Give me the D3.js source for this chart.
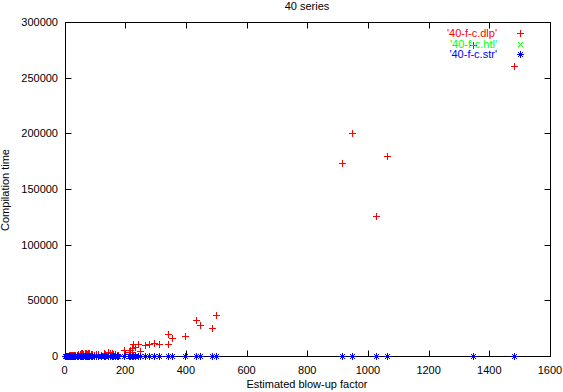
<!DOCTYPE html>
<html><head><meta charset="utf-8">
<script src="https://cdn.jsdelivr.net/npm/d3@7"></script>
<style>body{margin:0;background:#fff}svg{display:block}text{font-family:"Liberation Sans",Arial,sans-serif;font-size:11px}</style>
</head><body>
<svg id="c" width="563" height="392"></svg>
<script>
const title = "40 series";
const xLabel = "Estimated blow-up factor";
const yLabel = "Compilation time";
const seriesNames = ["'40-f-c.dlp'", "'40-f-c.htl'", "'40-f-c.str'"];
const seriesColors = ["#ff0000", "#00ff00", "#0000ff"];
const xTicks = [0,200,400,600,800,1000,1200,1400,1600];
const yTicks = [0,50000,100000,150000,200000,250000,300000];

const blowup = [2,4,6,8,10,12,14,16,18,20,22,25,28,30,33,36,40,43,
  46,50,54,58,62,66,70,74,78,82,86,90,
  96,104,112,120,129,135,144,150,155,160,166,172,177,
  197,211,216,221,223,227,233,243,249,265,280,294,312,340,342,354,396,433,447,485,498,
  913,946,1027,1062,1345,1483];
const dlp = [100,150,200,250,300,350,400,450,500,550,600,700,800,900,1000,1100,1300,1500,
  2000,2200,2300,2400,2200,2400,2300,2200,2400,2300,2200,2000,
  1000,1500,1800,1200,2400,2000,3300,2800,2400,1500,1800,1200,1000,
  5400,3300,5400,3300,7500,10400,8300,11000,4500,9800,10400,11300,10400,20000,11000,16100,18200,32200,27500,25100,36400,
  173100,200000,126000,180000,279000,260600];
const htl = [5,8,10,12,15,18,20,22,25,28,30,34,38,40,45,50,55,60,
  65,70,75,80,85,90,95,100,105,110,115,120,
  60,70,80,90,100,110,120,130,140,150,160,170,180,
  150,160,170,180,190,200,210,220,230,240,250,260,270,280,290,300,310,320,330,340,350,
  340,355,365,375,385,395];
const str = [10,12,14,16,18,20,22,24,26,28,30,32,34,36,38,40,42,44,
  50,55,60,65,70,75,80,85,90,95,100,105,
  40,50,60,70,80,90,100,110,120,130,140,150,160,
  120,130,140,150,160,170,180,190,200,210,220,230,240,250,260,270,280,290,300,310,320,
  350,360,370,380,390,400];

const svg = d3.select("#c");
const L = 64.5, R = 550, T = 22, B = 356;
const x = d3.scaleLinear().domain([0,1600]).range([L,R]);
const y = d3.scaleLinear().domain([0,300000]).range([B,T]);
const px = v => Math.round(x(v)) + 0.5;
const py = v => Math.round(y(v)) + 0.5;
const TL = 6;

svg.append("rect").attr("x",Math.round(L)+0.5).attr("y",T+0.5)
  .attr("width",Math.round(R)-Math.round(L)).attr("height",B-T)
  .attr("fill","none").attr("stroke","#000");

xTicks.forEach(t=>{
  const xx = px(t);
  svg.append("line").attr("x1",xx).attr("x2",xx).attr("y1",B+0.5).attr("y2",B+0.5-TL).attr("stroke","#000");
  svg.append("line").attr("x1",xx).attr("x2",xx).attr("y1",T+0.5).attr("y2",T+0.5+TL).attr("stroke","#000");
  svg.append("text").attr("x",x(t)).attr("y",B+18).attr("text-anchor","middle").text(t);
});
yTicks.forEach(t=>{
  const yy = py(t);
  svg.append("line").attr("x1",Math.round(L)+0.5).attr("x2",Math.round(L)+0.5+TL).attr("y1",yy).attr("y2",yy).attr("stroke","#000");
  svg.append("line").attr("x1",Math.round(R)+0.5).attr("x2",Math.round(R)+0.5-TL).attr("y1",yy).attr("y2",yy).attr("stroke","#000");
  svg.append("text").attr("x",58).attr("y",y(t)+4).attr("text-anchor","end").text(t);
});

svg.append("text").attr("x",307).attr("y",10).attr("text-anchor","middle").text(title);
svg.append("text").attr("x",307).attr("y",388).attr("text-anchor","middle").text(xLabel);
svg.append("text").attr("transform","translate(9,190) rotate(-90)").attr("text-anchor","middle").text(yLabel);

const s = 3.5;
function plus(g, cx, cy, c){
  g.append("path").attr("d",`M${cx-s},${cy}H${cx+s}M${cx},${cy-s}V${cy+s}`)
    .attr("stroke",c).attr("fill","none").attr("shape-rendering","crispEdges");
}
function cross(g, cx, cy, c){
  const d = 2.5;
  g.append("path").attr("d",`M${cx-d},${cy-d}L${cx+d},${cy+d}M${cx-d},${cy+d}L${cx+d},${cy-d}`)
    .attr("stroke",c).attr("fill","none").attr("shape-rendering","crispEdges");
}
function star(g, cx, cy, c){ plus(g,cx,cy,c); cross(g,cx,cy,c); }
const markers = [plus, cross, star];
const data = [dlp, htl, str];

const plot = svg.append("g");
data.forEach((vals,si)=>{
  vals.forEach((v,i)=> markers[si](plot, px(blowup[i]), py(v), seriesColors[si]));
});

const legY = [33, 43.5, 54];
seriesNames.forEach((n,i)=>{
  svg.append("text").attr("x",497).attr("y",legY[i]+4).attr("text-anchor","end").attr("fill",seriesColors[i]).text(n);
  markers[i](svg, 520.5, Math.round(legY[i])+0.5, seriesColors[i]);
});
</script>
</body></html>
